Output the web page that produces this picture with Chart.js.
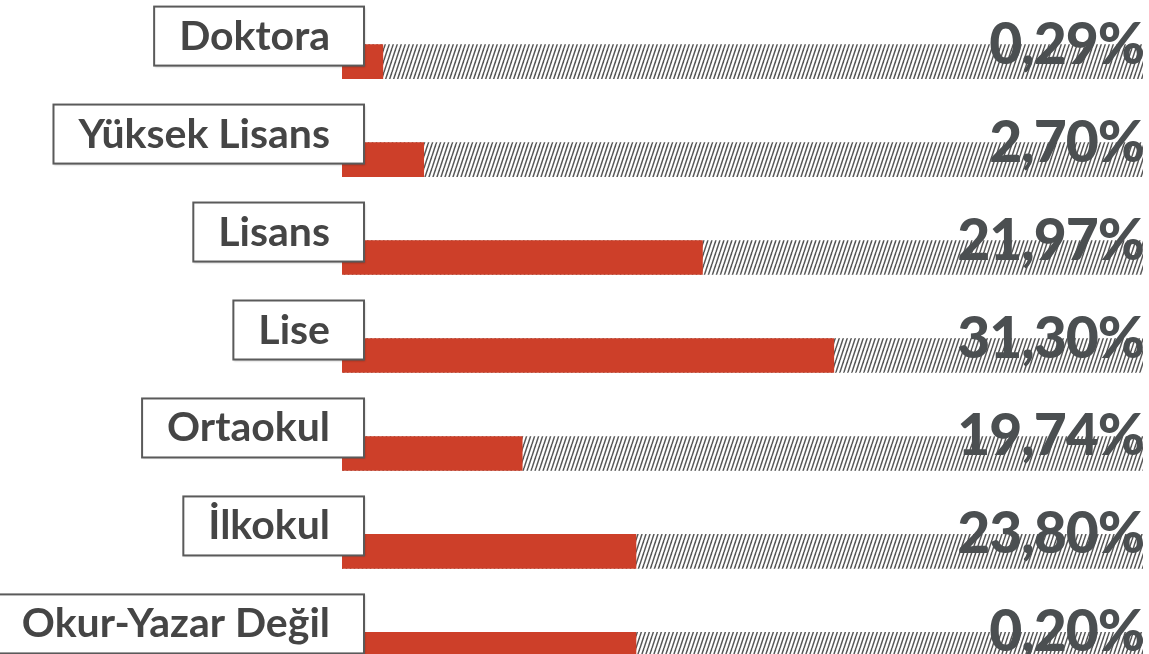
<!DOCTYPE html>
<html>
<head>
<meta charset="utf-8">
<script src="https://cdn.jsdelivr.net/npm/chart.js@4.4.0/dist/chart.umd.min.js"></script>
<style>
  html, body { margin: 0; padding: 0; background: #fff; overflow: hidden; }
  #wrap { width: 1149px; height: 700px; }
</style>
</head>
<body>
<div id="wrap"><canvas id="chart" width="1149" height="700"></canvas></div>
<script>
// egitim durumu
const categories = ['Doktora', 'Yüksek Lisans', 'Lisans', 'Lise', 'Ortaokul', 'İlkokul', 'Okur-Yazar Değil'];
const barLengths = [5.1, 10.2, 45.0, 61.4, 22.5, 36.7, 36.7];
const trackValues = [100, 100, 100, 100, 100, 100, 100];
const valueLabels = ['0,29%', '2,70%', '21,97%', '31,30%', '19,74%', '23,80%', '0,20%'];

const RED = '#cd3f29';
const TEXT_DARK = '#454545';
const PCT_COLOR = '#4b4f51';

// hatch pattern for the background track
function makeHatch() {
  const c = document.createElement('canvas');
  c.width = 4;
  c.height = 12;
  const g = c.getContext('2d');
  g.fillStyle = '#fff';
  g.fillRect(0, 0, 4, 12);
  g.strokeStyle = '#555';
  g.lineWidth = 1.5;
  for (const off of [-4, 0, 4]) {
    g.beginPath();
    g.moveTo(off, 12);
    g.lineTo(off + 4, 0);
    g.stroke();
  }
  return g.createPattern(c, 'repeat');
}

const labelPlugin = {
  id: 'labelPlugin',
  afterDatasetsDraw(chart) {
    const ctx = chart.ctx;
    const yScale = chart.scales.y;
    ctx.save();
    categories.forEach((cat, i) => {
      const cy = yScale.getPixelForValue(i);

      // label box
      ctx.font = '700 41px Lato';
      ctx.letterSpacing = '0px';
      const tw = ctx.measureText(cat).width;
      const textRight = 330;
      const boxRight = 364;
      const boxLeft = textRight - tw - 25;
      const boxTop = cy - 55;
      const boxH = 59;
      ctx.shadowColor = 'rgba(0,0,0,0.25)';
      ctx.shadowBlur = 2;
      ctx.shadowOffsetX = 1;
      ctx.shadowOffsetY = 1;
      ctx.fillStyle = '#fff';
      ctx.fillRect(boxLeft, boxTop, boxRight - boxLeft, boxH);
      ctx.shadowColor = 'transparent';
      ctx.strokeStyle = '#5a5a5a';
      ctx.lineWidth = 2;
      ctx.strokeRect(boxLeft, boxTop, boxRight - boxLeft, boxH);

      ctx.fillStyle = TEXT_DARK;
      ctx.textAlign = 'right';
      ctx.textBaseline = 'alphabetic';
      ctx.fillText(cat, textRight, boxTop + boxH - 16);

      // percentage
      ctx.font = '900 57px Lato';
      ctx.letterSpacing = '-1px';
      ctx.fillStyle = PCT_COLOR;
      ctx.fillText(valueLabels[i], 1144, cy + 2);
    });
    ctx.restore();
  }
};

new Chart(document.getElementById('chart').getContext('2d'), {
  type: 'bar',
  data: {
    labels: categories,
    datasets: [
      {
        data: barLengths,
        backgroundColor: RED,
        barThickness: 34,
        grouped: false,
        order: 0
      },
      {
        data: trackValues,
        backgroundColor: makeHatch(),
        barThickness: 34,
        grouped: false,
        order: 1
      }
    ]
  },
  options: {
    indexAxis: 'y',
    responsive: false,
    animation: false,
    layout: { padding: { left: 342, right: 6, top: 12.6, bottom: 1.6 } },
    scales: {
      x: { display: false, min: 0, max: 100 },
      y: { display: false }
    },
    plugins: {
      legend: { display: false },
      tooltip: { enabled: false }
    }
  },
  plugins: [labelPlugin]
});
</script>
</body>
</html>
